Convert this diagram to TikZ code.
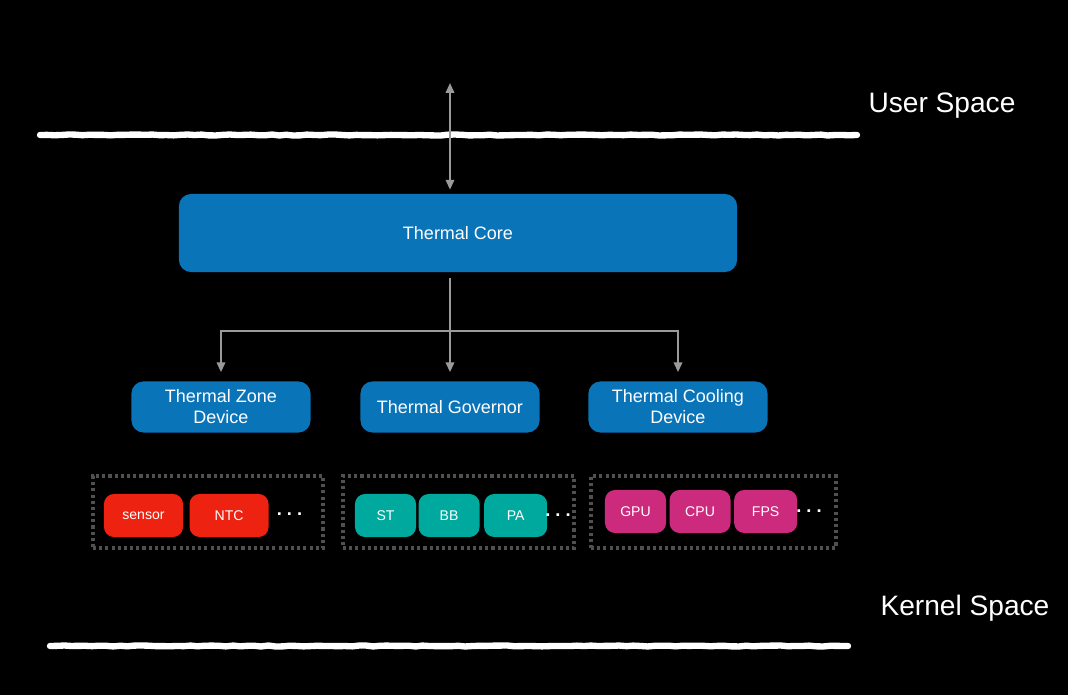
\documentclass[tikz,border=0pt]{standalone}
\usepackage{fontspec}
\setmainfont{Liberation Sans}
\usetikzlibrary{arrows.meta,positioning,decorations.pathmorphing}

\definecolor{coreblue}{HTML}{0A74B9}
\definecolor{sensred}{HTML}{EE2211}
\definecolor{govteal}{HTML}{00A99D}
\definecolor{coolpink}{HTML}{CC2A7C}
\definecolor{arrowgray}{HTML}{9A9A9A}
\definecolor{dotgray}{HTML}{505050}

\begin{document}
\begin{tikzpicture}[x=0.025cm, y=-0.025cm,
  bigbox/.style={rounded corners=0.3cm, fill=coreblue, text=white, align=center, inner sep=0pt, font=\fontsize{12.8}{15}\selectfont},
  devbox/.style={bigbox, minimum width=4.475cm, minimum height=1.275cm},
  smallbox/.style={rounded corners=0.25cm, text=white, inner sep=0pt, minimum height=1.075cm, font=\fontsize{10}{12}\selectfont},
  grpbox/.style={draw=dotgray, line width=2.2pt, dash pattern=on 2.2pt off 2.2pt, minimum height=1.8cm, inner sep=0pt},
  moredots/.style={text=white, inner sep=0pt, font=\fontsize{13}{14}\selectfont\bfseries},
  conn/.style={draw=arrowgray, line width=1.4pt, -{Triangle[length=7pt,width=6pt]}},
  spaceline/.style={white, line width=4.5pt, line cap=round, decorate, decoration={random steps, segment length=5pt, amplitude=0.35pt}},
  spacelabel/.style={text=white, inner sep=0pt, font=\fontsize{20}{24}\selectfont}]

  \fill[black] (0,0) rectangle (1068,695);
  \pgfmathsetseed{7}

  % user / kernel borders
  \draw[spaceline] (40,135) -- (857,135);
  \draw[spaceline] (50,646) -- (848,646);
  \node[spacelabel] (user) at (942,106) {User Space};
  \node[spacelabel] (kernel) at (965,608) {Kernel Space};

  % thermal framework
  \node[bigbox, minimum width=13.95cm, minimum height=1.95cm] (core) at (458,233) {Thermal Core};
  \node[devbox] (zone) at (221,407) {Thermal Zone\\Device};
  \node[devbox] (gov) at (450,407) {Thermal Governor};
  \node[devbox] (cool) at (678,407) {Thermal Cooling\\Device};

  \coordinate (top) at (450,83);
  \coordinate (branch) at (450,331);
  \draw[conn, {Triangle[length=7pt,width=6pt]}-{Triangle[length=7pt,width=6pt]}, shorten >=0.1cm] (top) -- (top |- core.north);
  \draw[conn, shorten <=0.15cm, shorten >=0.225cm] (core.south -| gov) -- (gov.north);
  \draw[conn, shorten >=0.225cm] (branch) -| (zone.north);
  \draw[conn, shorten >=0.225cm] (branch) -| (cool.north);

  % groups
  \node[grpbox, minimum width=5.75cm] (zonegrp) at (208,512) {};
  \node[grpbox, minimum width=5.775cm] (govgrp) at (458.5,512) {};
  \node[grpbox, minimum width=6.125cm] (coolgrp) at (713.5,512) {};

  \node[smallbox, fill=sensred, minimum width=1.975cm] (sensor) at (143.5,515.5) {sensor};
  \node[smallbox, fill=sensred, minimum width=1.975cm, right=0.15cm of sensor] (ntc) {NTC};
  \node[moredots] (zonedots) at (289.5,514) {.\hspace{3.6pt}.\hspace{3.6pt}.};

  \node[smallbox, fill=govteal, minimum width=1.525cm] (st) at (385.5,515.5) {ST};
  \node[smallbox, fill=govteal, minimum width=1.525cm, right=0.05cm of st] (bb) {BB};
  \node[smallbox, fill=govteal, minimum width=1.575cm, right=0.1cm of bb] (pa) {PA};
  \node[moredots] (govdots) at (558,515) {.\hspace{3.6pt}.\hspace{3.6pt}.};

  \node[smallbox, fill=coolpink, minimum width=1.525cm] (gpu) at (635.5,511.5) {GPU};
  \node[smallbox, fill=coolpink, minimum width=1.525cm, right=0.075cm of gpu] (cpu) {CPU};
  \node[smallbox, fill=coolpink, minimum width=1.575cm, right=0.075cm of cpu] (fps) {FPS};
  \node[moredots] (cooldots) at (809,511) {.\hspace{3.6pt}.\hspace{3.6pt}.};
\end{tikzpicture}
\end{document}
